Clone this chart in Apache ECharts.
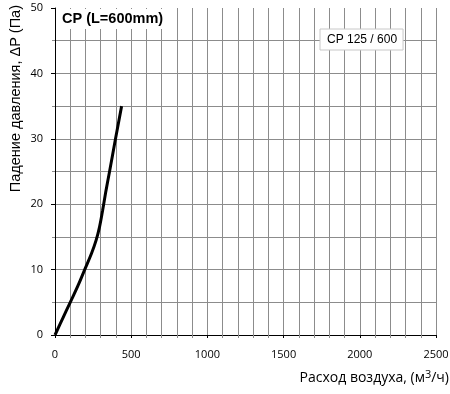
<!DOCTYPE html>
<html><head><meta charset="utf-8">
<script src="https://cdn.jsdelivr.net/npm/echarts@6/dist/echarts.min.js"></script>
<style>html,body{margin:0;padding:0;background:#fff}#c{width:450px;height:394px}</style>
</head><body><div id="c"></div>
<script>
const flow = [0, 50, 100, 150, 195, 240, 270, 292, 312, 334, 358, 397, 437];
const pressure = [0, 2.5, 5, 7.5, 10, 12.5, 14.5, 16.5, 19, 22, 25, 30, 35];
const seriesName = 'CP 125 / 600';
const titleText = 'CP (L=600mm)';
const xTicks = [0, 500, 1000, 1500, 2000, 2500];
const yTicks = [0, 10, 20, 30, 40, 50];

const chart = echarts.init(document.getElementById('c'), null, {renderer: 'canvas'});
const gridCol = '#8c8c8c';
chart.setOption({
  animation: false,
  title: {
    text: titleText, left: 58, top: 9,
    backgroundColor: '#fff', padding: [2, 6, 3, 4],
    textStyle: {fontFamily: 'Liberation Sans, Arial', fontWeight: 'bold', fontSize: 14.5, color: '#000'}
  },
  legend: {
    show: true, left: 320, top: 29, icon: 'none', itemWidth: 0, itemGap: 0,
    backgroundColor: '#fff', borderColor: '#c8c8c8', borderWidth: 1, padding: [4, 6, 4, 2],
    textStyle: {fontFamily: 'Liberation Sans, Arial', fontSize: 12, color: '#000'},
    data: [seriesName]
  },
  grid: {left: 55, right: 14, top: 8, bottom: 59, outerBoundsMode: 'none', containLabel: false},
  xAxis: {
    type: 'value', min: xTicks[0], max: xTicks[xTicks.length - 1], interval: 500,
    axisLine: {show: true, lineStyle: {color: '#000', width: 1}},
    axisTick: {show: true, length: 3, lineStyle: {color: '#000'}},
    axisLabel: {margin: 14, fontFamily: 'Open Sans', fontSize: 11, color: '#000', formatter: v => String(v)},
    splitLine: {show: true, lineStyle: {color: gridCol, width: 1}},
    minorTick: {show: true, splitNumber: 5, length: 3, lineStyle: {color: gridCol}},
    minorSplitLine: {show: true, lineStyle: {color: gridCol, width: 1}},
    name: '{a|Расход воздуха, (м}{s|3}{a|/ч)}', nameLocation: 'end', nameGap: 0,
    nameTextStyle: {
      align: 'right', verticalAlign: 'top', padding: [34, -13, 0, 0],
      rich: {
        a: {fontFamily: 'Open Sans', fontSize: 14, color: '#000'},
        s: {fontFamily: 'Open Sans', fontSize: 11, color: '#000', padding: [0, 0, 7, 0]}
      }
    }
  },
  yAxis: {
    type: 'value', min: yTicks[0], max: yTicks[yTicks.length - 1], interval: 10,
    axisLine: {show: true, lineStyle: {color: '#000', width: 1}},
    axisTick: {show: true, length: 4, lineStyle: {color: '#000'}},
    axisLabel: {margin: 12, fontFamily: 'Open Sans', fontSize: 11, color: '#000'},
    splitLine: {show: true, showMaxLine: false, lineStyle: {color: gridCol, width: 1}},
    minorTick: {show: true, splitNumber: 2, length: 3, lineStyle: {color: gridCol}},
    minorSplitLine: {show: true, lineStyle: {color: gridCol, width: 1}},
    name: 'Падение давления, ΔP (Па)', nameLocation: 'end', nameRotate: 90, nameGap: 0,
    nameTextStyle: {
      fontFamily: 'Liberation Sans, Arial', fontSize: 14.5, color: '#000',
      align: 'right', verticalAlign: 'bottom', padding: [0, -3, 32, 0]
    }
  },
  series: [{
    name: seriesName, type: 'line', smooth: 0.4, symbol: 'none',
    lineStyle: {color: '#000', width: 3},
    itemStyle: {color: '#000'},
    data: flow.map((f, i) => [f, pressure[i]])
  }]
});
</script></body></html>
